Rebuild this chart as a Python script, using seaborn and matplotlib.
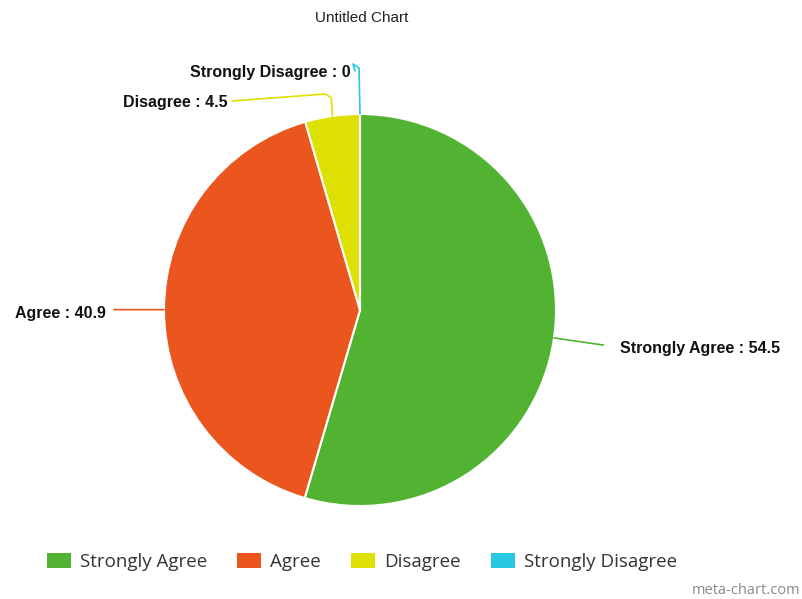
import numpy as np
import matplotlib
matplotlib.use("Agg")
import matplotlib.pyplot as plt
from matplotlib.patches import Patch
import seaborn as sns

categories = ["Strongly Agree", "Agree", "Disagree", "Strongly Disagree"]
values = [54.5, 40.9, 4.5, 0]
value_labels = ["54.5", "40.9", "4.5", "0"]
colors = ["#52b333", "#ea561e", "#dde000", "#27c9e2"]
title = "Untitled Chart"

sns.set_theme(style="white")
plt.rcParams["font.family"] = ["Liberation Sans", "DejaVu Sans"]

W, H = 802, 599
fig = plt.figure(figsize=(W / 100, H / 100), dpi=100)
ax = fig.add_axes([0, 0, 1, 1])

def py(y):
    return H - y

cx, cy, r = 360, 310, 196
ax.pie(values, colors=sns.color_palette(colors), startangle=90, counterclock=False,
       center=(cx, py(cy)), radius=r,
       wedgeprops=dict(edgecolor="white", linewidth=1.5))
ax.set_xlim(0, W)
ax.set_ylim(0, H)
ax.set_aspect("equal")
ax.axis("off")

LFS = 11.5
total = sum(values)
cum = np.cumsum([0] + values[:-1])
# manual label placement for crowded top labels (pixel y, right end x)
override = {"Disagree": (101, 228), "Strongly Disagree": (71, 351)}
for cat, v, c, start, vl in zip(categories, values, colors, cum, value_labels):
    mid = np.deg2rad(90 - 360 * (start + v / 2) / total)
    ex, ey = cx + r * np.cos(mid), cy - r * np.sin(mid)
    text = f"{cat} : {vl}"
    if cat in override:
        ly, lx = override[cat]
        xs = [ex, ex - 1, ex - 7, lx + 4]
        ys = [ey, ly - 3, ly - 7, ly]
        ax.plot(xs, [py(y) for y in ys], color=c, lw=1.2, solid_capstyle="round")
        ax.text(lx, py(ly + 2), text, ha="right", va="center", fontsize=LFS,
                fontweight="bold", color="#111111")
    else:
        bx, by = cx + (r + 50) * np.cos(mid), cy - (r + 50) * np.sin(mid)
        if np.cos(mid) >= 0:
            ax.plot([ex, bx], [py(ey), py(by)], color=c, lw=1.2)
            ax.text(bx + 17, py(by + 3), text, ha="left", va="center", fontsize=LFS,
                    fontweight="bold", color="#111111")
        else:
            ax.plot([ex, bx], [py(ey), py(by)], color=c, lw=1.2)
            ax.text(bx - 8, py(by + 4), text, ha="right", va="center", fontsize=LFS,
                    fontweight="bold", color="#111111")

fig.text(362 / W, 1 - 18 / H, title, ha="center", va="center", fontsize=11, color="#222222")

handles = [Patch(facecolor=c, edgecolor="none") for c in colors]
leg = fig.legend(handles, categories, loc="center", bbox_to_anchor=(362 / W, 1 - 562 / H),
                 ncol=4, frameon=False, handlelength=1.28, handleheight=0.85,
                 handletextpad=0.48, columnspacing=1.6,
                 prop={"family": "Open Sans", "size": 13.5})
for t in leg.get_texts():
    t.set_color("#333333")

fig.text(800 / W, 1 - 591 / H, "meta-chart.com", ha="right", va="center",
         fontsize=10.5, color="#8a8a8a", family="Open Sans")

fig.savefig("out.png", dpi=100, facecolor="white")
